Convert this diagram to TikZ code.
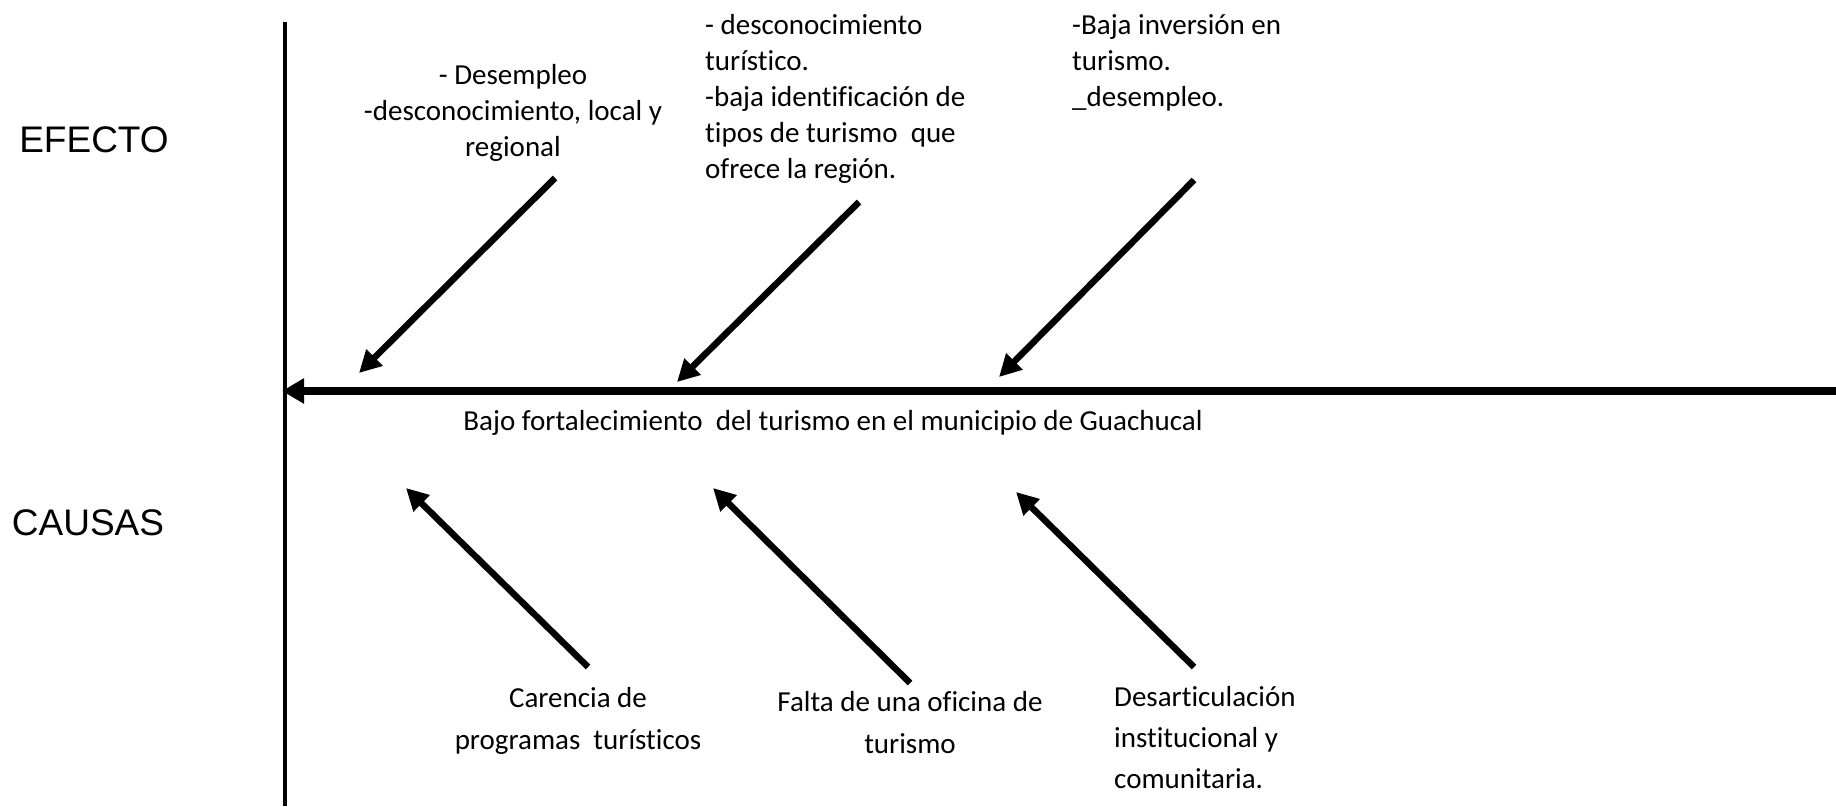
\documentclass[tikz,border=0pt]{standalone}
\usepackage{fontspec}
\setmainfont{Carlito}[Ligatures=CommonOff]
\newfontfamily\arialfont{Liberation Sans}
\usetikzlibrary{arrows.meta}

\begin{document}
\begin{tikzpicture}[x=1pt,y=-1pt,
    texto/.style={font=\fontsize{29}{36}\selectfont, inner sep=0pt},
    textocausa/.style={font=\fontsize{29}{42}\selectfont, inner sep=0pt},
    titulo/.style={font=\arialfont\fontsize{37}{44}\selectfont, inner sep=0pt},
    flecha/.style={line width=6.5pt, -{Triangle[length=22pt,width=22pt]}}]
    \useasboundingbox (0,0) rectangle (1836,806);
    % titles
    \node[titulo] (efecto) at (94,140) {EFECTO};
    \node[titulo] (causas) at (88,523) {CAUSAS};
    % axis and main line
    \coordinate (ejeSup) at (285,22);
    \coordinate (ejeInf) at (285,806);
    \draw[line width=4.5pt] (ejeSup) -- (ejeInf);
    \coordinate (espinaFin) at (1836,391);
    \coordinate (espinaIni) at (282,391);
    \draw[line width=8.5pt, -{Triangle[length=22pt,width=24pt]}] (espinaFin) -- (espinaIni);
    \node[texto] (problema) at (833,423) {Bajo fortalecimiento\ \ del turismo en el municipio de Guachucal};
    % effects
    \node[texto, align=center, anchor=north] (efecto1) at (513,64) {- Desempleo\\-desconocimiento, local y\\regional};
    \node[texto, align=left, anchor=north west] (efecto2) at (705,14) {- desconocimiento\\turístico.\\-baja identificación de\\tipos de turismo\ \ que\\ofrece la región.};
    \node[texto, align=left, anchor=north west] (efecto3) at (1072,14) {-Baja inversión en\\turismo.\\\_desempleo.};
    \coordinate (e1a) at (555,178);
    \coordinate (e1b) at (359,373);
    \coordinate (e2a) at (859,202);
    \coordinate (e2b) at (677,382);
    \coordinate (e3a) at (1194,180);
    \coordinate (e3b) at (999,377);
    \draw[flecha] (e1a) -- (e1b);
    \draw[flecha] (e2a) -- (e2b);
    \draw[flecha] (e3a) -- (e3b);
    % causes
    \node[textocausa, align=center, anchor=north] (causa1) at (578,687) {Carencia de\\programas\ \ turísticos};
    \node[textocausa, align=center, anchor=north] (causa2) at (910,691) {Falta de una oficina de\\turismo};
    \node[textocausa, align=left, anchor=north west, font=\fontsize{29}{41}\selectfont] (causa3) at (1114,686) {Desarticulación\\institucional y\\comunitaria.};
    \coordinate (c1a) at (588,667);
    \coordinate (c1b) at (406,488);
    \coordinate (c2a) at (910,683);
    \coordinate (c2b) at (713,488);
    \coordinate (c3a) at (1194,667);
    \coordinate (c3b) at (1016,492);
    \draw[flecha] (c1a) -- (c1b);
    \draw[flecha] (c2a) -- (c2b);
    \draw[flecha] (c3a) -- (c3b);
\end{tikzpicture}
\end{document}
